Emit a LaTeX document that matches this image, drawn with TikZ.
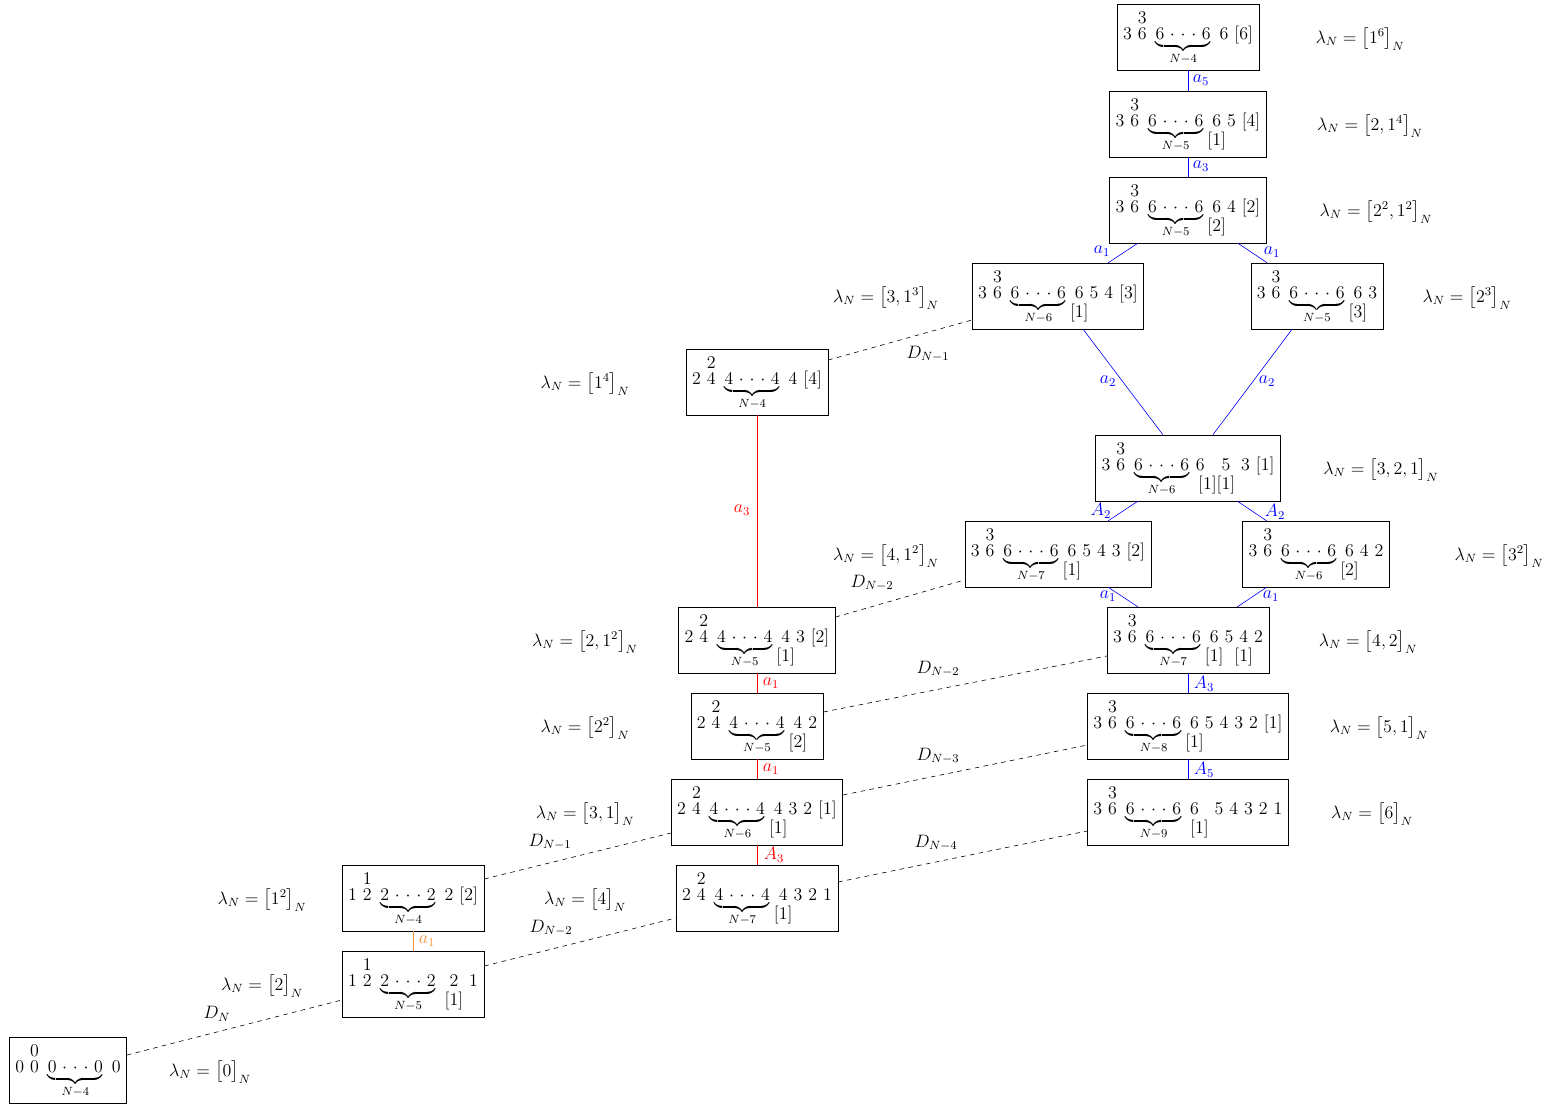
\documentclass[12pt,tikz,border=0pt]{standalone}
\usepackage{amsmath}
\usepackage{mathtools}
\usetikzlibrary{calc}

\definecolor{lorange}{RGB}{245,150,60}

\newcommand{\sk}{\hspace{4pt}}
\newcommand{\tv}[2]{\begin{array}[b]{@{}c@{}}#1\\[-3.8pt]#2\end{array}}
\newcommand{\bv}[2]{\begin{array}[t]{@{}c@{}}#1\\[-1.8pt]\mathclap{#2}\end{array}}
\newcommand{\bvc}[2]{\begin{array}[t]{@{}c@{}}#1\\[-1.8pt]#2\end{array}}
\newcommand{\bvl}[2]{\begin{array}[t]{@{}l@{}}#1\\[-1.8pt]#2\end{array}}
\newcommand{\rep}[2]{\underbrace{#1\hspace{3.8pt}{\cdot}\hspace{3.8pt}{\cdot}\hspace{3.8pt}{\cdot}\hspace{3.8pt}#1}_{#2}}
\newcommand{\lam}[1]{\lambda_N=\bigl[#1\bigr]_N}

\tikzset{
  box/.style={draw, inner xsep=4pt, inner ysep=1pt, minimum height=44pt},
  bline/.style={blue},
  rline/.style={red},
  oline/.style={lorange},
  dline/.style={dashed}
}

\begin{document}
\begin{tikzpicture}[x=0.02352cm, y=-0.02352cm]
\useasboundingbox (0,0) rectangle (1553,1104);

% right column
\node[box] (b16) at (1188,37) {$3\sk\tv{3}{6}\sk\rep{6}{N-4}\sk 6\sk [6]$};
\node[box] (b214) at (1188,124) {$3\sk\tv{3}{6}\sk\rep{6}{N-5}\sk\bv{6}{[1]}\sk 5\sk [4]$};
\node[box] (b2212) at (1188,210) {$3\sk\tv{3}{6}\sk\rep{6}{N-5}\sk\bv{6}{[2]}\sk 4\sk [2]$};
\node[box] (b313) at (1058,296) {$3\sk\tv{3}{6}\sk\rep{6}{N-6}\sk\bv{6}{[1]}\sk 5\sk 4\sk [3]$};
\node[box] (b23) at (1317,296) {$3\sk\tv{3}{6}\sk\rep{6}{N-5}\sk\bv{6}{[3]}\sk 3$};
\node[box] (b321) at (1188,468) {$3\sk\tv{3}{6}\sk\rep{6}{N-6}\hspace{2.5pt}6\hspace{8pt}\bvc{5}{\mathllap{[1]}[1]}\sk 3\sk [1]$};
\node[box] (b412) at (1058,554) {$3\sk\tv{3}{6}\sk\rep{6}{N-7}\sk\bv{6}{[1]}\sk 5\sk 4\sk 3\sk [2]$};
\node[box] (b32) at (1316,554) {$3\sk\tv{3}{6}\sk\rep{6}{N-6}\sk\bv{6}{[2]}\sk 4\sk 2$};
\node[box] (b42) at (1188,640) {$3\sk\tv{3}{6}\sk\rep{6}{N-7}\sk\bv{6}{[1]}\sk 5\sk\bv{4}{[1]}\sk 2$};
\node[box] (b51) at (1188,726) {$3\sk\tv{3}{6}\sk\rep{6}{N-8}\sk\bv{6}{[1]}\sk 5\sk 4\sk 3\sk 2\sk [1]$};
\node[box] (b6) at (1188,812) {$3\sk\tv{3}{6}\sk\rep{6}{N-9}\sk\bvl{6}{[1]}\sk 5\sk 4\sk 3\sk 2\sk 1$};

% middle column
\node[box] (b14) at (757,382) {$2\sk\tv{2}{4}\sk\rep{4}{N-4}\sk 4\sk [4]$};
\node[box] (b212) at (757,640) {$2\sk\tv{2}{4}\sk\rep{4}{N-5}\sk\bv{4}{[1]}\sk 3\sk [2]$};
\node[box] (b22) at (757,726) {$2\sk\tv{2}{4}\sk\rep{4}{N-5}\sk\bv{4}{[2]}\sk 2$};
\node[box] (b31) at (757,812) {$2\sk\tv{2}{4}\sk\rep{4}{N-6}\sk\bv{4}{[1]}\sk 3\sk 2\sk [1]$};
\node[box] (b4) at (757,898) {$2\sk\tv{2}{4}\sk\rep{4}{N-7}\sk\bv{4}{[1]}\sk 3\sk 2\sk 1$};

% left column
\node[box] (b112) at (413,898) {$1\sk\tv{1}{2}\sk\rep{2}{N-4}\sk 2\sk [2]$};
\node[box] (b2) at (413,984) {$1\sk\tv{1}{2}\sk\rep{2}{N-5}\sk\bvc{2}{[1]}\sk 1$};
\node[box] (b0) at (68,1070) {$0\sk\tv{0}{0}\sk\rep{0}{N-4}\sk 0$};

% weights
\node (l16) at (1360,39) {$\lam{1^6}$};
\node (l214) at (1370,126) {$\lam{2,1^4}$};
\node (l2212) at (1376,212) {$\lam{2^2,1^2}$};
\node (l313) at (886,298) {$\lam{3,1^3}$};
\node (l23) at (1467,298) {$\lam{2^3}$};
\node (l14) at (585,384) {$\lam{1^4}$};
\node (l321) at (1381,470) {$\lam{3,2,1}$};
\node (l412) at (886,556) {$\lam{4,1^2}$};
\node (l32) at (1499,556) {$\lam{3^2}$};
\node (l212) at (585,642) {$\lam{2,1^2}$};
\node (l42) at (1368,642) {$\lam{4,2}$};
\node (l22) at (585,728) {$\lam{2^2}$};
\node (l51) at (1379,728) {$\lam{5,1}$};
\node (l31) at (585,814) {$\lam{3,1}$};
\node (l6) at (1372,814) {$\lam{6}$};
\node (l112) at (262,900) {$\lam{1^2}$};
\node (l4) at (585,900) {$\lam{4}$};
\node (l2) at (262,986) {$\lam{2}$};
\node (l0) at (210,1072) {$\lam{0}$};

% blue moves
\draw[bline] (b16) -- (b214);
\draw[bline] (b214) -- (b2212);
\draw[bline] (b2212) -- (b313);
\draw[bline] (b2212) -- (b23);
\draw[bline] (b313) -- (b321);
\draw[bline] (b23) -- (b321);
\draw[bline] (b321) -- (b412);
\draw[bline] (b321) -- (b32);
\draw[bline] (b412) -- (b42);
\draw[bline] (b32) -- (b42);
\draw[bline] (b42) -- (b51);
\draw[bline] (b51) -- (b6);
\node[text=blue] (e1) at (1201,80) {$a_5$};
\node[text=blue] (e2) at (1201,166) {$a_3$};
\node[text=blue] (e3) at (1102,251) {$a_1$};
\node[text=blue] (e4) at (1272,252) {$a_1$};
\node[text=blue] (e5) at (1108,381) {$a_2$};
\node[text=blue] (e6) at (1267,381) {$a_2$};
\node[text=blue] (e7) at (1101,511) {$A_2$};
\node[text=blue] (e8) at (1275,512) {$A_2$};
\node[text=blue] (e9) at (1108,596) {$a_1$};
\node[text=blue] (e10) at (1271,596) {$a_1$};
\node[text=blue] (e11) at (1204,684) {$A_3$};
\node[text=blue] (e12) at (1204,770) {$A_5$};

% red and orange moves
\draw[rline] (b14) -- (b212);
\draw[rline] (b212) -- (b22);
\draw[rline] (b22) -- (b31);
\draw[rline] (b31) -- (b4);
\draw[oline] (b112) -- (b2);
\node[text=red] (e13) at (742,510) {$a_3$};
\node[text=red] (e14) at (771,683) {$a_1$};
\node[text=red] (e15) at (771,769) {$a_1$};
\node[text=red] (e16) at (774,855) {$A_3$};
\node[text=lorange] (e17) at (427,941) {$a_1$};

% D moves
\draw[dline] ($(b14.east)+(0,-22)$) -- ($(b313.west)+(0,24)$);
\draw[dline] ($(b212.east)+(0,-23)$) -- ($(b412.west)+(0,26)$);
\draw[dline] ($(b22.east)+(0,-14)$) -- ($(b42.west)+(0,16)$);
\draw[dline] ($(b31.east)+(0,-17)$) -- ($(b51.west)+(0,19)$);
\draw[dline] ($(b4.east)+(0,-16)$) -- ($(b6.west)+(0,19)$);
\draw[dline] ($(b112.east)+(0,-19)$) -- ($(b31.west)+(0,21)$);
\draw[dline] ($(b2.east)+(0,-18)$) -- ($(b4.west)+(0,20)$);
\draw[dline] ($(b0.east)+(0,-15)$) -- ($(b2.west)+(0,16)$);
\node (d1) at (928,354) {$D_{N-1}$};
\node (d2) at (872,583) {$D_{N-2}$};
\node (d3) at (938,669) {$D_{N-2}$};
\node (d4) at (938,756) {$D_{N-3}$};
\node (d5) at (936,843) {$D_{N-4}$};
\node (d6) at (550,842) {$D_{N-1}$};
\node (d7) at (551,928) {$D_{N-2}$};
\node (d8) at (217,1014) {$D_N$};
\end{tikzpicture}
\end{document}
